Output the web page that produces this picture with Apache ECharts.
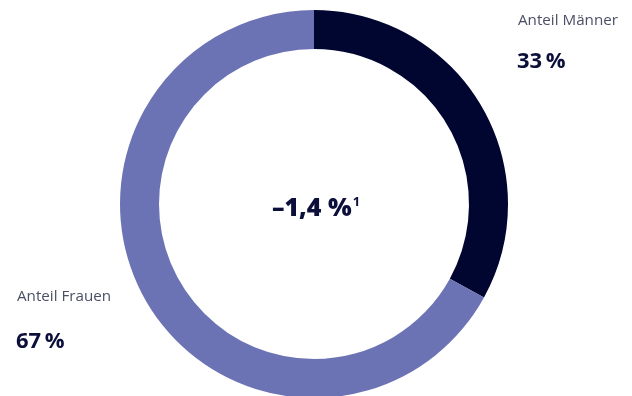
<!DOCTYPE html>
<html>
<head>
<meta charset="utf-8">
<script src="https://cdn.jsdelivr.net/npm/echarts@6/dist/echarts.min.js"></script>
<style>
  html, body { margin: 0; padding: 0; background: #fff; }
  #chart { width: 632px; height: 396px; }
</style>
</head>
<body>
<div id="chart"></div>
<script>
// Gender split shown as a donut with the change figure in the middle
const categories = ['Anteil Männer', 'Anteil Frauen'];
const shares = [33, 67];
const centerValue = '–1,4 %';
const centerNote = '1';

const colors = ['#000630', '#6c73b5'];
const labelColor = '#4c5066';
const valueColor = '#0b0f3a';
const font = '"Open Sans", "Noto Sans", sans-serif';

// thin space between number and percent sign
const fmt = v => v + '\u2009%';

const chart = echarts.init(document.getElementById('chart'), null, { renderer: 'canvas' });

chart.setOption({
  animation: false,
  backgroundColor: '#fff',
  series: [{
    type: 'pie',
    center: [314, 204],
    radius: [155, 194],
    startAngle: 90,
    clockwise: true,
    silent: true,
    label: { show: false },
    labelLine: { show: false },
    itemStyle: { borderWidth: 0 },
    data: categories.map((name, i) => ({
      name,
      value: shares[i],
      itemStyle: { color: colors[i] }
    }))
  }],
  graphic: [
    { type: 'text', left: 518, top: 13,
      style: { text: categories[0], font: '15.2px ' + font, fill: labelColor } },
    { type: 'text', left: 517, top: 51,
      style: { text: fmt(shares[0]), font: 'bold 22px ' + font, fill: valueColor } },
    { type: 'text', left: 17, top: 289,
      style: { text: categories[1], font: '15.2px ' + font, fill: labelColor } },
    { type: 'text', left: 16, top: 331,
      style: { text: fmt(shares[1]), font: 'bold 22px ' + font, fill: valueColor } },
    { type: 'text', left: 'center', top: 196,
      style: {
        text: '{v|' + centerValue + '}{n|' + centerNote + '}',
        rich: {
          v: { font: '800 25px ' + font, fill: valueColor, color: valueColor },
          n: { font: '700 13px ' + font, fill: valueColor, color: valueColor, verticalAlign: 'top', padding: [0, 0, 0, 1] }
        }
      } }
  ]
});
</script>
</body>
</html>
